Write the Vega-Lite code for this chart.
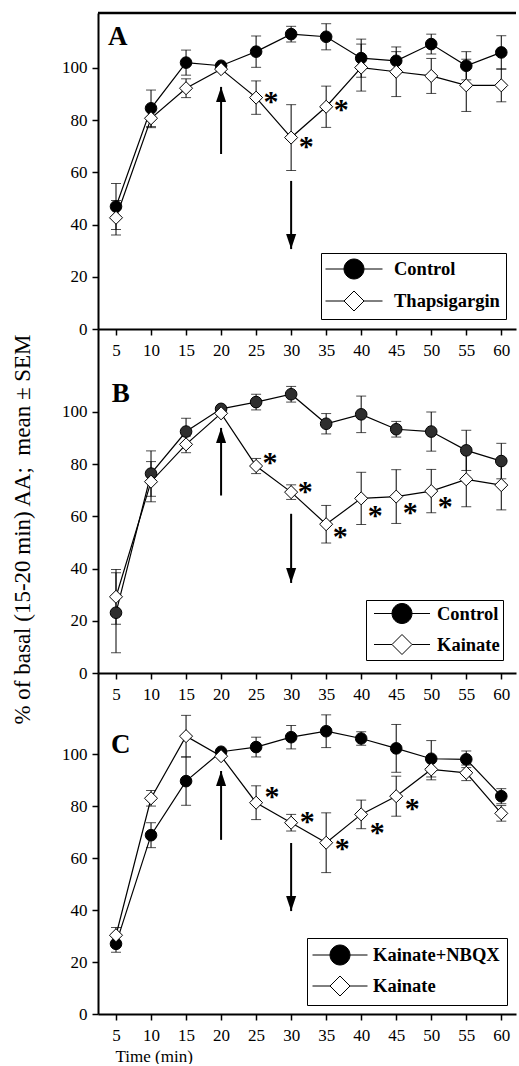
{
  "$schema": "https://vega.github.io/schema/vega-lite/v6.json",
  "padding": {"left": 10, "top": 11, "right": 0, "bottom": 0},
  "background": "white",
  "datasets": {
    "a": [
      {"t": 5, "series": "Control", "mean": 46.9, "sem": 8.8},
      {"t": 10, "series": "Control", "mean": 84.5, "sem": 7},
      {"t": 15, "series": "Control", "mean": 102, "sem": 4.8},
      {"t": 20, "series": "Control", "mean": 100.8, "sem": 0},
      {"t": 25, "series": "Control", "mean": 106.2, "sem": 6},
      {"t": 30, "series": "Control", "mean": 112.9, "sem": 3},
      {"t": 35, "series": "Control", "mean": 111.9, "sem": 5},
      {"t": 40, "series": "Control", "mean": 103.7, "sem": 7.3},
      {"t": 45, "series": "Control", "mean": 102.7, "sem": 3.5},
      {"t": 50, "series": "Control", "mean": 109.1, "sem": 3.8},
      {"t": 55, "series": "Control", "mean": 100.8, "sem": 5.4},
      {"t": 60, "series": "Control", "mean": 105.9, "sem": 6.4},
      {"t": 5, "series": "Thapsigargin", "mean": 42.6, "sem": 6.6},
      {"t": 10, "series": "Thapsigargin", "mean": 80.7, "sem": 3.6},
      {"t": 15, "series": "Thapsigargin", "mean": 92.2, "sem": 3.6},
      {"t": 20, "series": "Thapsigargin", "mean": 99.5, "sem": 0},
      {"t": 25, "series": "Thapsigargin", "mean": 88.6, "sem": 6.4, "star": 89.3},
      {"t": 30, "series": "Thapsigargin", "mean": 73.3, "sem": 12.6, "star": 72},
      {"t": 35, "series": "Thapsigargin", "mean": 85.1, "sem": 7.9, "star": 86.2},
      {"t": 40, "series": "Thapsigargin", "mean": 100.1, "sem": 9},
      {"t": 45, "series": "Thapsigargin", "mean": 98.5, "sem": 9.5},
      {"t": 50, "series": "Thapsigargin", "mean": 96.9, "sem": 6.7},
      {"t": 55, "series": "Thapsigargin", "mean": 93.3, "sem": 10},
      {"t": 60, "series": "Thapsigargin", "mean": 93.3, "sem": 6.3}
    ],
    "b": [
      {"t": 5, "series": "Control", "mean": 23.1, "sem": 15.3},
      {"t": 10, "series": "Control", "mean": 76.4, "sem": 8.7},
      {"t": 15, "series": "Control", "mean": 92.5, "sem": 5.1},
      {"t": 20, "series": "Control", "mean": 101.2, "sem": 0},
      {"t": 25, "series": "Control", "mean": 103.8, "sem": 3},
      {"t": 30, "series": "Control", "mean": 106.8, "sem": 3},
      {"t": 35, "series": "Control", "mean": 95.5, "sem": 3.9},
      {"t": 40, "series": "Control", "mean": 99.1, "sem": 7},
      {"t": 45, "series": "Control", "mean": 93.4, "sem": 3},
      {"t": 50, "series": "Control", "mean": 92.5, "sem": 7.5},
      {"t": 55, "series": "Control", "mean": 85.3, "sem": 7.7},
      {"t": 60, "series": "Control", "mean": 81.2, "sem": 6.8},
      {"t": 5, "series": "Kainate", "mean": 29.2, "sem": 10.5},
      {"t": 10, "series": "Kainate", "mean": 73.3, "sem": 7.7},
      {"t": 15, "series": "Kainate", "mean": 87.6, "sem": 3.2},
      {"t": 20, "series": "Kainate", "mean": 99.5, "sem": 0},
      {"t": 25, "series": "Kainate", "mean": 79.3, "sem": 2.9, "star": 82.8},
      {"t": 30, "series": "Kainate", "mean": 69.3, "sem": 2.8, "star": 71.6},
      {"t": 35, "series": "Kainate", "mean": 57.0, "sem": 7.2, "star": 54.4},
      {"t": 40, "series": "Kainate", "mean": 66.9, "sem": 10, "star": 62.5},
      {"t": 45, "series": "Kainate", "mean": 67.6, "sem": 10.3, "star": 63.6},
      {"t": 50, "series": "Kainate", "mean": 69.7, "sem": 8.3, "star": 65.9},
      {"t": 55, "series": "Kainate", "mean": 74.2, "sem": 10.5},
      {"t": 60, "series": "Kainate", "mean": 72, "sem": 9.5}
    ],
    "c": [
      {"t": 5, "series": "Kainate+NBQX", "mean": 27.0, "sem": 3.2},
      {"t": 10, "series": "Kainate+NBQX", "mean": 68.8, "sem": 4.8},
      {"t": 15, "series": "Kainate+NBQX", "mean": 89.6, "sem": 9.3},
      {"t": 20, "series": "Kainate+NBQX", "mean": 100.9, "sem": 0},
      {"t": 25, "series": "Kainate+NBQX", "mean": 102.7, "sem": 3.8},
      {"t": 30, "series": "Kainate+NBQX", "mean": 106.5, "sem": 4.5},
      {"t": 35, "series": "Kainate+NBQX", "mean": 108.8, "sem": 6.3},
      {"t": 40, "series": "Kainate+NBQX", "mean": 106, "sem": 2.6},
      {"t": 45, "series": "Kainate+NBQX", "mean": 102.2, "sem": 9.2},
      {"t": 50, "series": "Kainate+NBQX", "mean": 98.2, "sem": 7},
      {"t": 55, "series": "Kainate+NBQX", "mean": 98, "sem": 3.2},
      {"t": 60, "series": "Kainate+NBQX", "mean": 83.8, "sem": 2.9},
      {"t": 5, "series": "Kainate", "mean": 30.3, "sem": 3},
      {"t": 10, "series": "Kainate", "mean": 83, "sem": 3},
      {"t": 15, "series": "Kainate", "mean": 106.9, "sem": 8},
      {"t": 20, "series": "Kainate", "mean": 99.2, "sem": 0},
      {"t": 25, "series": "Kainate", "mean": 81.3, "sem": 6.5, "star": 85.8},
      {"t": 30, "series": "Kainate", "mean": 73.6, "sem": 3.2, "star": 76.2},
      {"t": 35, "series": "Kainate", "mean": 65.9, "sem": 11.5, "star": 65.8},
      {"t": 40, "series": "Kainate", "mean": 76.8, "sem": 5.5, "star": 71.9},
      {"t": 45, "series": "Kainate", "mean": 83.8, "sem": 7.7, "star": 81.2},
      {"t": 50, "series": "Kainate", "mean": 94.1, "sem": 4},
      {"t": 55, "series": "Kainate", "mean": 92.8, "sem": 3},
      {"t": 60, "series": "Kainate", "mean": 77.2, "sem": 3}
    ],
    "arrows": [
      {"panel": "A", "t": 20, "tail": 67, "tip": 92.7, "dir": "up"},
      {"panel": "A", "t": 30, "tail": 56.7, "tip": 30.6, "dir": "down"},
      {"panel": "B", "t": 20, "tail": 68, "tip": 93.9, "dir": "up"},
      {"panel": "B", "t": 30, "tail": 61, "tip": 34.5, "dir": "down"},
      {"panel": "C", "t": 20, "tail": 67, "tip": 93.5, "dir": "up"},
      {"panel": "C", "t": 30, "tail": 65.8, "tip": 39.6, "dir": "down"}
    ]
  },
  "vconcat": [
    {
      "width": 418, "height": 316,
      "layer": [
        {"data": {"name": "a"},
         "mark": {"type": "line", "color": "black", "strokeWidth": 1.2},
         "encoding": {
           "x": {"field": "t", "type": "quantitative", "scale": {"domain": [2.43, 62.1], "nice": false, "zero": false}, "axis": {"values": [5,10,15,20,25,30,35,40,45,50,55,60], "tickCount": 30, "title": null, "labelPadding": 7, "labelOverlap": false, "labelFlush": false, "labelBound": false}},
           "y": {"field": "mean", "type": "quantitative", "scale": {"domain": [0, 121], "nice": false, "zero": false}, "axis": {"values": [0,20,40,60,80,100], "tickCount": 20, "title": null, "labelOverlap": false, "labelFlush": false}},
           "detail": {"field": "series"}}},
        {"data": {"name": "a"},
         "mark": {"type": "errorbar", "ticks": {"size": 10, "color": "black", "strokeWidth": 1}, "color": "black", "thickness": 1},
         "encoding": {"x": {"field": "t", "type": "quantitative", "title": null}, "y": {"field": "mean", "type": "quantitative", "title": null}, "yError": {"field": "sem"}}},
        {"data": {"name": "a"},
         "transform": [{"filter": "datum.series === 'Control'"}],
         "mark": {"type": "point", "shape": "circle", "filled": true, "fill": "black", "opacity": 1, "stroke": "black", "strokeWidth": 1, "size": 135},
         "encoding": {"x": {"field": "t", "type": "quantitative"}, "y": {"field": "mean", "type": "quantitative"}}},
        {"data": {"name": "a"},
         "transform": [{"filter": "datum.series === 'Thapsigargin'"}],
         "mark": {"type": "point", "shape": "diamond", "filled": true, "fill": "white", "opacity": 1, "stroke": "black", "strokeWidth": 1, "size": 170},
         "encoding": {"x": {"field": "t", "type": "quantitative"}, "y": {"field": "mean", "type": "quantitative"}}},
        {"data": {"name": "a"},
         "transform": [{"filter": "datum.t < 0"}],
         "mark": {"type": "point", "filled": true, "opacity": 1, "strokeWidth": 1},
         "encoding": {
           "x": {"field": "t", "type": "quantitative"},
           "y": {"field": "mean", "type": "quantitative"},
           "shape": {"field": "series", "type": "nominal", "scale": {"domain": ["Control", "Thapsigargin"], "range": ["M-2.85,0H-1M1,0H2.85M1,0A1,1,0,1,1,-1,0A1,1,0,1,1,1,0Z", "M-2.85,0H-1M1,0H2.85M-1,0L0,-1L1,0L0,1Z"]},
             "legend": {"title": null, "orient": "bottom-right", "offset": 10, "strokeColor": "black", "fillColor": "white", "padding": 5.5, "symbolSize": 400, "symbolStrokeWidth": 1, "symbolOffset": 17, "labelOffset": 29.5, "rowPadding": 7}},
           "fill": {"field": "series", "type": "nominal", "scale": {"domain": ["Control", "Thapsigargin"], "range": ["black", "white"]},
             "legend": {"title": null, "orient": "bottom-right", "offset": 10, "strokeColor": "black", "fillColor": "white", "padding": 5.5, "symbolSize": 400, "symbolStrokeWidth": 1, "symbolOffset": 17, "labelOffset": 29.5, "rowPadding": 7}},
           "stroke": {"field": "series", "type": "nominal", "scale": {"domain": ["Control", "Thapsigargin"], "range": ["black", "black"]},
             "legend": {"title": null, "orient": "bottom-right", "offset": 10, "strokeColor": "black", "fillColor": "white", "padding": 5.5, "symbolSize": 400, "symbolStrokeWidth": 1, "symbolOffset": 17, "labelOffset": 29.5, "rowPadding": 7}}}},
        {"data": {"name": "a"},
         "transform": [{"filter": "datum.star != null"}],
         "mark": {"type": "text", "text": "*", "fontSize": 30, "fontWeight": "bold", "dx": 15, "dy": 6, "baseline": "middle", "align": "center", "color": "black", "font": "Liberation Serif"},
         "encoding": {"x": {"field": "t", "type": "quantitative"}, "y": {"field": "star", "type": "quantitative"}}},
        {"data": {"name": "arrows"},
         "transform": [{"filter": "datum.panel === 'A'"}],
         "mark": {"type": "rule", "color": "black", "strokeWidth": 2},
         "encoding": {"x": {"field": "t", "type": "quantitative"}, "y": {"field": "tail", "type": "quantitative"}, "y2": {"field": "tip"}}},
        {"data": {"name": "arrows"},
         "transform": [{"filter": "datum.panel === 'A' && datum.dir === 'up'"}],
         "mark": {"type": "point", "shape": "M0,0L0.67,2L-0.67,2Z", "filled": true, "color": "black", "opacity": 1, "size": 225},
         "encoding": {"x": {"field": "t", "type": "quantitative"}, "y": {"field": "tip", "type": "quantitative"}}},
        {"data": {"name": "arrows"},
         "transform": [{"filter": "datum.panel === 'A' && datum.dir === 'down'"}],
         "mark": {"type": "point", "shape": "M0,0L0.67,-2L-0.67,-2Z", "filled": true, "color": "black", "opacity": 1, "size": 225},
         "encoding": {"x": {"field": "t", "type": "quantitative"}, "y": {"field": "tip", "type": "quantitative"}}},
        {"data": {"values": [{"label": "A"}]},
         "mark": {"type": "text", "fontSize": 27, "fontWeight": "bold", "align": "left", "baseline": "alphabetic", "font": "Liberation Serif", "color": "black"},
         "encoding": {"x": {"datum": 3.86, "type": "quantitative"}, "y": {"datum": 108.7, "type": "quantitative"}, "text": {"field": "label"}}},
        {"data": {"values": [{"edge": "top"}]},
         "mark": {"type": "rule", "color": "black", "strokeWidth": 2.5},
         "encoding": {"y": {"datum": 121, "type": "quantitative"}}}
      ]
    },
    {
      "width": 418, "height": 344,
      "layer": [
        {"data": {"name": "b"},
         "mark": {"type": "line", "color": "black", "strokeWidth": 1.2},
         "encoding": {
           "x": {"field": "t", "type": "quantitative", "scale": {"domain": [2.43, 62.1], "nice": false, "zero": false}, "axis": {"values": [5,10,15,20,25,30,35,40,45,50,55,60], "tickCount": 30, "title": null, "labelPadding": 7, "labelOverlap": false, "labelFlush": false, "labelBound": false}},
           "y": {"field": "mean", "type": "quantitative", "title": "% of basal (15-20 min) AA;\u00a0 mean ± SEM", "scale": {"domain": [0, 131.8], "nice": false, "zero": false}, "axis": {"values": [0,20,40,60,80,100], "tickCount": 20, "labelOverlap": false, "labelFlush": false, "title": "% of basal (15-20 min) AA;\u00a0 mean ± SEM", "titleFontSize": 23, "titleAngle": 270, "titleX": -76, "titleY": 200, "titleBaseline": "middle", "titleAlign": "center"}},
           "detail": {"field": "series"}}},
        {"data": {"name": "b"},
         "mark": {"type": "errorbar", "ticks": {"size": 10, "color": "black", "strokeWidth": 1}, "color": "black", "thickness": 1},
         "encoding": {"x": {"field": "t", "type": "quantitative", "title": null}, "y": {"field": "mean", "type": "quantitative", "title": "% of basal (15-20 min) AA;\u00a0 mean ± SEM"}, "yError": {"field": "sem"}}},
        {"data": {"name": "b"},
         "transform": [{"filter": "datum.series === 'Control'"}],
         "mark": {"type": "point", "shape": "circle", "filled": true, "fill": "#2e2e2e", "opacity": 1, "stroke": "black", "strokeWidth": 1, "size": 135},
         "encoding": {"x": {"field": "t", "type": "quantitative"}, "y": {"field": "mean", "type": "quantitative"}}},
        {"data": {"name": "b"},
         "transform": [{"filter": "datum.series === 'Kainate'"}],
         "mark": {"type": "point", "shape": "diamond", "filled": true, "fill": "white", "opacity": 1, "stroke": "black", "strokeWidth": 1, "size": 170},
         "encoding": {"x": {"field": "t", "type": "quantitative"}, "y": {"field": "mean", "type": "quantitative"}}},
        {"data": {"name": "b"},
         "transform": [{"filter": "datum.t < 0"}],
         "mark": {"type": "point", "filled": true, "opacity": 1, "strokeWidth": 1},
         "encoding": {
           "x": {"field": "t", "type": "quantitative"},
           "y": {"field": "mean", "type": "quantitative"},
           "shape": {"field": "series", "type": "nominal", "scale": {"domain": ["Control", "Kainate"], "range": ["M-2.8,0H-1M1,0H2.8M1,0A1,1,0,1,1,-1,0A1,1,0,1,1,1,0Z", "M-2.8,0H-1M1,0H2.8M-1,0L0,-1L1,0L0,1Z"]},
             "legend": {"title": null, "orient": "bottom-right", "offset": 13, "strokeColor": "black", "fillColor": "white", "padding": 3, "symbolSize": 400, "symbolStrokeWidth": 1, "symbolOffset": 22.5, "labelOffset": 24.5, "rowPadding": 6}},
           "fill": {"field": "series", "type": "nominal", "scale": {"domain": ["Control", "Kainate"], "range": ["black", "white"]},
             "legend": {"title": null, "orient": "bottom-right", "offset": 13, "strokeColor": "black", "fillColor": "white", "padding": 3, "symbolSize": 400, "symbolStrokeWidth": 1, "symbolOffset": 22.5, "labelOffset": 24.5, "rowPadding": 6}},
           "stroke": {"field": "series", "type": "nominal", "scale": {"domain": ["Control", "Kainate"], "range": ["black", "black"]},
             "legend": {"title": null, "orient": "bottom-right", "offset": 13, "strokeColor": "black", "fillColor": "white", "padding": 3, "symbolSize": 400, "symbolStrokeWidth": 1, "symbolOffset": 22.5, "labelOffset": 24.5, "rowPadding": 6}}}},
        {"data": {"name": "b"},
         "transform": [{"filter": "datum.star != null"}],
         "mark": {"type": "text", "text": "*", "fontSize": 30, "fontWeight": "bold", "dx": 14, "dy": 6, "baseline": "middle", "align": "center", "color": "black", "font": "Liberation Serif"},
         "encoding": {"x": {"field": "t", "type": "quantitative"}, "y": {"field": "star", "type": "quantitative"}}},
        {"data": {"name": "arrows"},
         "transform": [{"filter": "datum.panel === 'B'"}],
         "mark": {"type": "rule", "color": "black", "strokeWidth": 2},
         "encoding": {"x": {"field": "t", "type": "quantitative"}, "y": {"field": "tail", "type": "quantitative"}, "y2": {"field": "tip"}}},
        {"data": {"name": "arrows"},
         "transform": [{"filter": "datum.panel === 'B' && datum.dir === 'up'"}],
         "mark": {"type": "point", "shape": "M0,0L0.67,2L-0.67,2Z", "filled": true, "color": "black", "opacity": 1, "size": 225},
         "encoding": {"x": {"field": "t", "type": "quantitative"}, "y": {"field": "tip", "type": "quantitative"}}},
        {"data": {"name": "arrows"},
         "transform": [{"filter": "datum.panel === 'B' && datum.dir === 'down'"}],
         "mark": {"type": "point", "shape": "M0,0L0.67,-2L-0.67,-2Z", "filled": true, "color": "black", "opacity": 1, "size": 225},
         "encoding": {"x": {"field": "t", "type": "quantitative"}, "y": {"field": "tip", "type": "quantitative"}}},
        {"data": {"values": [{"label": "B"}]},
         "mark": {"type": "text", "fontSize": 27, "fontWeight": "bold", "align": "left", "baseline": "alphabetic", "font": "Liberation Serif", "color": "black"},
         "encoding": {"x": {"datum": 4.4, "type": "quantitative"}, "y": {"datum": 104, "type": "quantitative"}, "text": {"field": "label"}}}
      ]
    },
    {
      "width": 418, "height": 341,
      "layer": [
        {"data": {"name": "c"},
         "mark": {"type": "line", "color": "black", "strokeWidth": 1.2},
         "encoding": {
           "x": {"field": "t", "type": "quantitative", "scale": {"domain": [2.43, 62.1], "nice": false, "zero": false}, "axis": {"values": [5,10,15,20,25,30,35,40,45,50,55,60], "tickCount": 30, "labelOverlap": false, "labelFlush": false, "labelBound": false, "title": "Time (min)", "labelPadding": 7, "titleFontSize": 17, "titleX": 17, "titleY": 47, "titleAlign": "left", "titleBaseline": "alphabetic", "titleAnchor": "start"}},
           "y": {"field": "mean", "type": "quantitative", "scale": {"domain": [0, 131.2], "nice": false, "zero": false}, "axis": {"values": [0,20,40,60,80,100], "tickCount": 20, "title": null, "labelOverlap": false, "labelFlush": false}},
           "detail": {"field": "series"}}},
        {"data": {"name": "c"},
         "mark": {"type": "errorbar", "ticks": {"size": 10, "color": "black", "strokeWidth": 1}, "color": "black", "thickness": 1},
         "encoding": {"x": {"field": "t", "type": "quantitative", "title": "Time (min)"}, "y": {"field": "mean", "type": "quantitative", "title": null}, "yError": {"field": "sem"}}},
        {"data": {"name": "c"},
         "transform": [{"filter": "datum.series === 'Kainate+NBQX'"}],
         "mark": {"type": "point", "shape": "circle", "filled": true, "fill": "black", "opacity": 1, "stroke": "black", "strokeWidth": 1, "size": 135},
         "encoding": {"x": {"field": "t", "type": "quantitative"}, "y": {"field": "mean", "type": "quantitative"}}},
        {"data": {"name": "c"},
         "transform": [{"filter": "datum.series === 'Kainate'"}],
         "mark": {"type": "point", "shape": "diamond", "filled": true, "fill": "white", "opacity": 1, "stroke": "black", "strokeWidth": 1, "size": 170},
         "encoding": {"x": {"field": "t", "type": "quantitative"}, "y": {"field": "mean", "type": "quantitative"}}},
        {"data": {"name": "c"},
         "transform": [{"filter": "datum.t < 0"}],
         "mark": {"type": "point", "filled": true, "opacity": 1, "strokeWidth": 1},
         "encoding": {
           "x": {"field": "t", "type": "quantitative"},
           "y": {"field": "mean", "type": "quantitative"},
           "shape": {"field": "series", "type": "nominal", "scale": {"domain": ["Kainate+NBQX", "Kainate"], "range": ["M-2.75,0H-1M1,0H2.75M1,0A1,1,0,1,1,-1,0A1,1,0,1,1,1,0Z", "M-2.75,0H-1M1,0H2.75M-1,0L0,-1L1,0L0,1Z"]},
             "legend": {"title": null, "orient": "bottom-right", "offset": 9, "strokeColor": "black", "fillColor": "white", "padding": 6.5, "symbolSize": 400, "symbolStrokeWidth": 1, "symbolOffset": 16, "labelOffset": 22.5, "rowPadding": 6}},
           "fill": {"field": "series", "type": "nominal", "scale": {"domain": ["Kainate+NBQX", "Kainate"], "range": ["black", "white"]},
             "legend": {"title": null, "orient": "bottom-right", "offset": 9, "strokeColor": "black", "fillColor": "white", "padding": 6.5, "symbolSize": 400, "symbolStrokeWidth": 1, "symbolOffset": 16, "labelOffset": 22.5, "rowPadding": 6}},
           "stroke": {"field": "series", "type": "nominal", "scale": {"domain": ["Kainate+NBQX", "Kainate"], "range": ["black", "black"]},
             "legend": {"title": null, "orient": "bottom-right", "offset": 9, "strokeColor": "black", "fillColor": "white", "padding": 6.5, "symbolSize": 400, "symbolStrokeWidth": 1, "symbolOffset": 16, "labelOffset": 22.5, "rowPadding": 6}}}},
        {"data": {"name": "c"},
         "transform": [{"filter": "datum.star != null"}],
         "mark": {"type": "text", "text": "*", "fontSize": 30, "fontWeight": "bold", "dx": 16, "dy": 6, "baseline": "middle", "align": "center", "color": "black", "font": "Liberation Serif"},
         "encoding": {"x": {"field": "t", "type": "quantitative"}, "y": {"field": "star", "type": "quantitative"}}},
        {"data": {"name": "arrows"},
         "transform": [{"filter": "datum.panel === 'C'"}],
         "mark": {"type": "rule", "color": "black", "strokeWidth": 2},
         "encoding": {"x": {"field": "t", "type": "quantitative"}, "y": {"field": "tail", "type": "quantitative"}, "y2": {"field": "tip"}}},
        {"data": {"name": "arrows"},
         "transform": [{"filter": "datum.panel === 'C' && datum.dir === 'up'"}],
         "mark": {"type": "point", "shape": "M0,0L0.67,2L-0.67,2Z", "filled": true, "color": "black", "opacity": 1, "size": 225},
         "encoding": {"x": {"field": "t", "type": "quantitative"}, "y": {"field": "tip", "type": "quantitative"}}},
        {"data": {"name": "arrows"},
         "transform": [{"filter": "datum.panel === 'C' && datum.dir === 'down'"}],
         "mark": {"type": "point", "shape": "M0,0L0.67,-2L-0.67,-2Z", "filled": true, "color": "black", "opacity": 1, "size": 225},
         "encoding": {"x": {"field": "t", "type": "quantitative"}, "y": {"field": "tip", "type": "quantitative"}}},
        {"data": {"values": [{"label": "C"}]},
         "mark": {"type": "text", "fontSize": 27, "fontWeight": "bold", "align": "left", "baseline": "alphabetic", "font": "Liberation Serif", "color": "black"},
         "encoding": {"x": {"datum": 4.3, "type": "quantitative"}, "y": {"datum": 100.5, "type": "quantitative"}, "text": {"field": "label"}}}
      ]
    }
  ],
  "spacing": 0,
  "bounds": "flush",
  "resolve": {
    "scale": {"x": "independent", "y": "independent", "shape": "independent", "fill": "independent", "stroke": "independent"},
    "axis": {"x": "independent", "y": "independent"},
    "legend": {"shape": "independent", "fill": "independent", "stroke": "independent"}
  },
  "config": {
    "view": {"stroke": null},
    "font": "Liberation Serif",
    "axis": {"labelFont": "Liberation Serif", "labelFontSize": 17, "labelColor": "black", "tickColor": "black", "domainColor": "black", "domainWidth": 2, "tickWidth": 1.5, "tickSize": 6, "grid": false, "labelPadding": 5, "labelOverlap": false, "titleFont": "Liberation Serif", "titleFontWeight": "normal", "titleColor": "black"},
    "axisX": {"labelOverlap": false, "labelSeparation": 0},
    "legend": {"labelFont": "Liberation Serif", "labelFontSize": 18.5, "labelFontWeight": "bold", "labelColor": "black", "labelLimit": 300}
  }
}
